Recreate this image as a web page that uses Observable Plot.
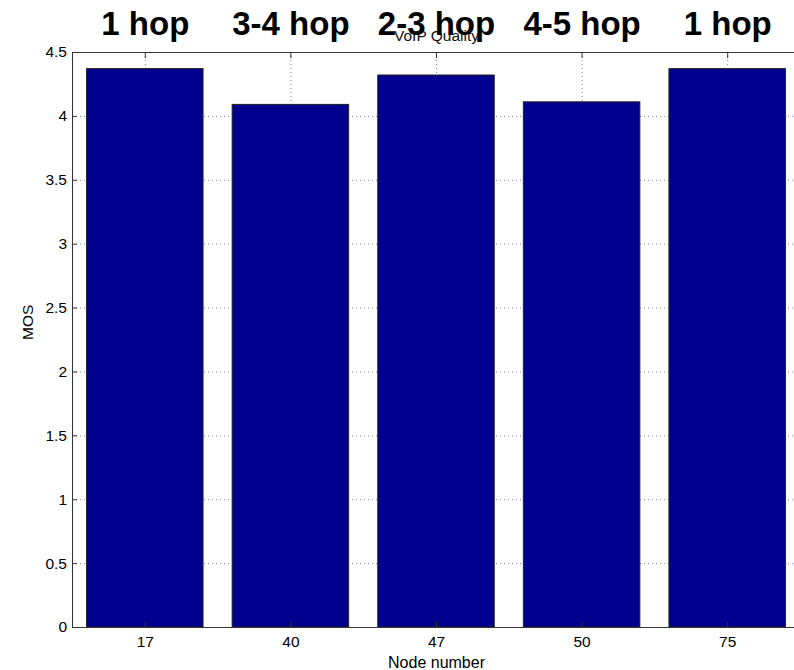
<!DOCTYPE html>
<html><head><meta charset="utf-8">
<script src="https://cdn.jsdelivr.net/npm/d3@7"></script>
<script src="https://cdn.jsdelivr.net/npm/@observablehq/plot@0.6"></script>
<style>
html,body{margin:0;padding:0;background:#fff;overflow:hidden;width:794px;height:670px}
#chart{width:794px;height:670px;overflow:hidden}
#chart svg{display:block;max-width:none !important}
</style></head><body><div id="chart"></div>
<script>
const nodes = ["17", "40", "47", "50", "75"];
const mos = [4.37, 4.09, 4.32, 4.11, 4.37];
const hops = ["1 hop", "3-4 hop", "2-3 hop", "4-5 hop", "1 hop"];
const yTicks = [0, 0.5, 1, 1.5, 2, 2.5, 3, 3.5, 4, 4.5];
const title = "VoIP Quality";
const xLabel = "Node number";
const yLabel = "MOS";

const data = nodes.map((n, i) => ({node: n, mos: mos[i], hop: hops[i]}));

const chart = Plot.plot({
  width: 794, height: 670,
  marginLeft: 72, marginRight: 0, marginTop: 52, marginBottom: 43,
  style: {fontFamily: "'Liberation Sans', Arial, sans-serif", fontSize: "16px", color: "#000", background: "#fff", overflow: "hidden", maxWidth: "none"},
  x: {type: "band", domain: nodes, paddingInner: 0.2, paddingOuter: 0.1, round: false, range: [72, 800]},
  y: {domain: [0, 4.5]},
  marks: [
    Plot.gridY(yTicks, {stroke: "#808080", strokeOpacity: 1, strokeDasharray: "1,3"}),
    Plot.gridX(nodes, {stroke: "#808080", strokeOpacity: 1, strokeDasharray: "1,3"}),
    Plot.barY(data, {x: "node", y: "mos", fill: "#00008f", stroke: "#222", strokeWidth: 1}),
    Plot.ruleY([0, 4.5], {stroke: "#333"}),
    Plot.frame({anchor: "left", stroke: "#333"}),
    Plot.axisY(yTicks, {anchor: "left", tickSize: -5, tickPadding: 10.5, tickFormat: d => String(d), label: null, stroke: "#333", fontSize: 15.5}),
    Plot.axisX({anchor: "bottom", tickSize: -5, tickPadding: 13.5, label: null, stroke: "#333", fontSize: 15.5}),
    Plot.axisX({anchor: "top", tickSize: -5, tickFormat: () => "", label: null, stroke: "#333"}),
    Plot.text([xLabel], {x: () => nodes[2], frameAnchor: "bottom", lineAnchor: "bottom", dy: 40, fontSize: 16}),
    Plot.text([yLabel], {frameAnchor: "left", dx: -44, rotate: -90, fontSize: 15.5}),
    Plot.text([title], {x: () => nodes[2], frameAnchor: "top", lineAnchor: "bottom", dy: -12, fontSize: 15.5, fill: "#111"}),
    Plot.text(data, {x: "node", text: "hop", frameAnchor: "top", lineAnchor: "bottom", dy: -18, fontSize: 33, fontWeight: "bold", fill: "#000"})
  ]
});
document.getElementById("chart").appendChild(chart);
</script>
</body></html>
